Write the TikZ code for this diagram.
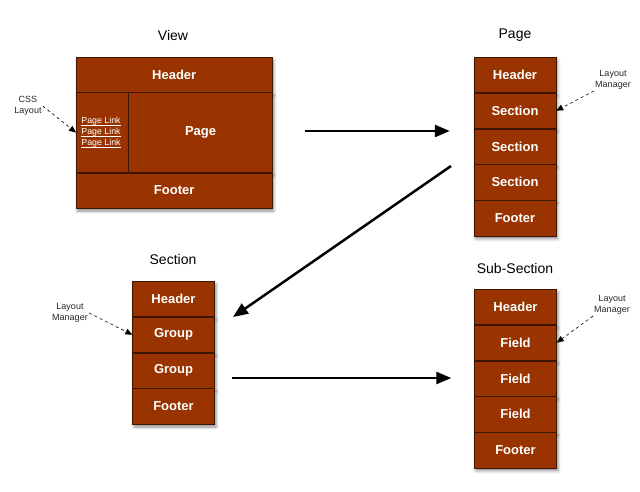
\documentclass[tikz,border=0pt]{standalone}
\usepackage{fontspec}
\setmainfont{Liberation Sans}
\usetikzlibrary{positioning}
\usetikzlibrary{arrows.meta}
\usetikzlibrary{shadows.blur}

\definecolor{rust}{HTML}{993300}
\definecolor{rim}{HTML}{3B1604}

% underline set close to the baseline
\newcommand{\navline}[1]{\setbox0\hbox{#1}\rlap{\vrule width\wd0 height -1.1pt depth 1.7pt}\box0}

\tikzset{
  cell/.style={draw=rim, fill=rust, text=white, inner sep=0pt,
    font=\fontsize{13}{15}\selectfont\bfseries,
    minimum width=82pt, minimum height=35.4pt,
    blur shadow={shadow xshift=1.5pt, shadow yshift=-3pt, shadow blur radius=3pt, shadow opacity=45}},
  title/.style={font=\fontsize{14}{16}\selectfont},
  note/.style={font=\fontsize{9}{11.5}\selectfont, align=center, text=black!85, inner sep=1pt},
  link/.style={font=\fontsize{8.8}{10}\selectfont, text=white, inner sep=0pt},
  flow/.style={line width=2.5pt, -{Triangle[length=15pt,width=12pt]}},
  hint/.style={dashed, semithick, -{Triangle[length=7pt,width=6pt]}},
}

\begin{document}
\begin{tikzpicture}[x=1pt,y=-1pt]
    \useasboundingbox (0,0) rectangle (640,492);

    % View
    \node[title] (viewTitle) at (173,35) {View};
    \node[cell, minimum width=196pt, minimum height=35pt, anchor=north west] (viewHead) at (76,57) {Header};
    \node[cell, minimum width=52pt, minimum height=80pt, below=0pt of viewHead.south west, anchor=north west] (viewNav) {};
    \node[cell, minimum width=144pt, minimum height=80pt, right=0pt of viewNav] (viewPage) {Page};
    \node[cell, minimum width=196pt, minimum height=35pt, below=0pt of viewNav.south west, anchor=north west] (viewFoot) {Footer};
    \foreach \i/\y in {1/124,2/135,3/146}
      \node[link, anchor=base] (viewLink\i) at (101,\y) {\navline{Page Link}};
    \node[note] (cssNote) at (28,106) {CSS\\Layout};
    \draw[hint] (cssNote.east) -- (viewNav.west);

    % Page
    \node[title] (pageTitle) at (515,35) {Page};
    \node[cell, anchor=north] (pageR1) at (515,57) {Header};
    \foreach \t [count=\i from 2, remember=\i as \j (initially 1)] in {Section,Section,Section,Footer}
      \node[cell, below=0pt of pageR\j] (pageR\i) {\t};
    \node[note] (pageNote) at (613,80) {Layout\\Manager};
    \draw[hint] (pageNote.south west) -- (pageR2.east);

    % Section
    \node[title] (secTitle) at (173,259) {Section};
    \node[cell, anchor=north] (secR1) at (173.5,281) {Header};
    \foreach \t [count=\i from 2, remember=\i as \j (initially 1)] in {Group,Group,Footer}
      \node[cell, below=0pt of secR\j] (secR\i) {\t};
    \node[note] (secNote) at (70,313) {Layout\\Manager};
    \draw[hint] (secNote.east) -- (secR2.west);

    % Sub-Section
    \node[title] (subTitle) at (515,268) {Sub-Section};
    \node[cell, anchor=north] (subR1) at (515.5,289) {Header};
    \foreach \t [count=\i from 2, remember=\i as \j (initially 1)] in {Field,Field,Field,Footer}
      \node[cell, below=0pt of subR\j] (subR\i) {\t};
    \node[note] (subNote) at (612,305) {Layout\\Manager};
    \draw[hint] (subNote.south west) -- (subR2.east);

    % flow between the layouts
    \coordinate (topFrom) at (305,131);
    \coordinate (diagFrom) at (451,166);
    \coordinate (diagTo) at (233,317);
    \coordinate (lowFrom) at (232,378);
    \draw[flow, shorten >=24pt] (topFrom) -- (topFrom -| pageR1.west);
    \draw[flow] (diagFrom) -- (diagTo);
    \draw[flow, shorten >=23pt] (lowFrom) -- (lowFrom -| subR1.west);
\end{tikzpicture}
\end{document}
